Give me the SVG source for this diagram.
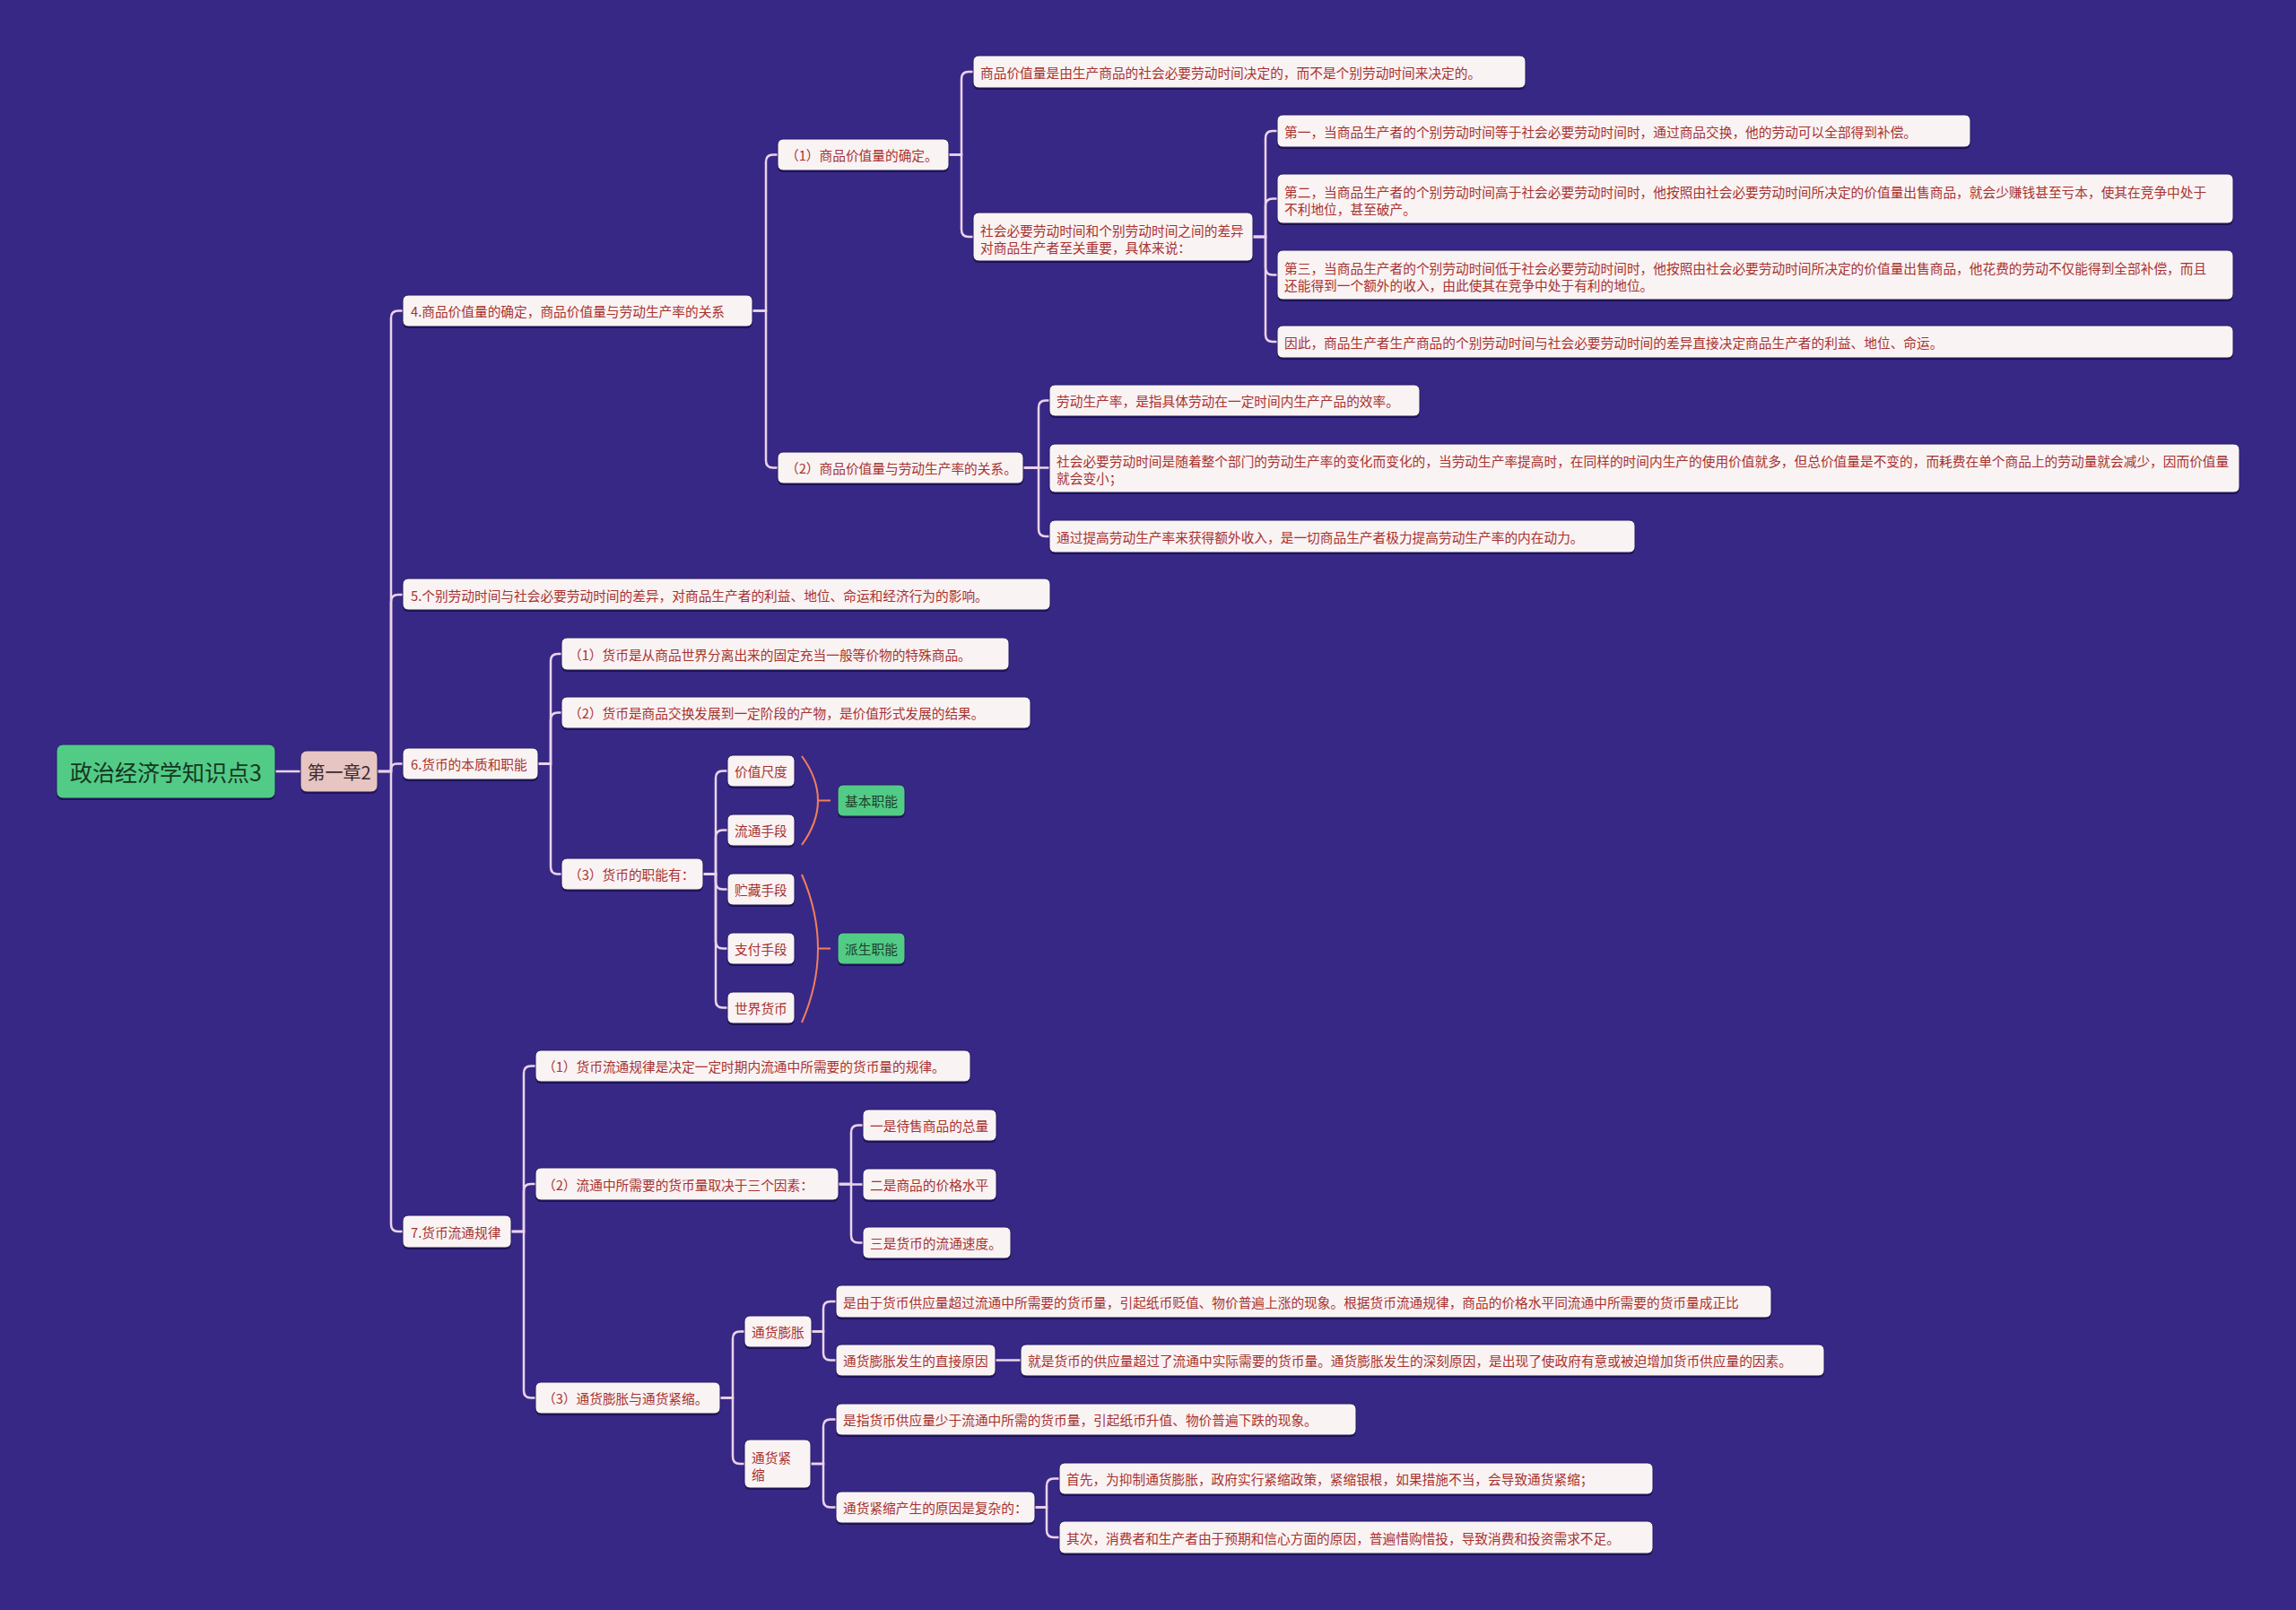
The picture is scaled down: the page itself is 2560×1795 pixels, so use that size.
<svg xmlns="http://www.w3.org/2000/svg" width="2560" height="1795" viewBox="0 0 2560 1795">
<defs>
<style>
.sh{fill:#1b1250;}
.box{fill:#f9f3f3;stroke:#261b63;stroke-width:1;}
.t{font-family:"Noto Sans CJK SC","Noto Sans",sans-serif;font-size:14.7px;fill:#a8322f;dominant-baseline:central;}
.root{fill:#52cb86;stroke:#261b63;stroke-width:1;}
.rt{font-family:"Noto Sans CJK SC","Noto Sans",sans-serif;font-size:25px;fill:#163722;dominant-baseline:central;text-anchor:middle;}
.ch{fill:#e6c5c3;stroke:#261b63;stroke-width:1;}
.cht{font-family:"Noto Sans CJK SC","Noto Sans",sans-serif;font-size:20px;fill:#3a2a2a;dominant-baseline:central;text-anchor:middle;}
.gbox{fill:#52cb86;stroke:#261b63;stroke-width:1;}
.gt{font-family:"Noto Sans CJK SC","Noto Sans",sans-serif;font-size:14.7px;fill:#1d4029;dominant-baseline:central;text-anchor:middle;}
.ln{fill:none;stroke:#ead4ea;stroke-width:2.5;}
.br{fill:none;stroke:#f07f5a;stroke-width:2;}
</style>
</defs>
<rect x="0" y="0" width="2560" height="1795" fill="#382886"/>

<g id="connectors">
<path class="ln" d="M307 860 H335"/>
<path class="ln" d="M421 860 H436 V354.5 Q436 346.5 444 346.5 H449"/>
<path class="ln" d="M421 860 H436 V671 Q436 663 444 663 H449"/>
<path class="ln" d="M436 860 V858 Q436 851.5 442.5 851.5 H449"/>
<path class="ln" d="M421 860 H436 V1365 Q436 1373 444 1373 H449"/>

<path class="ln" d="M839 346.5 H854 V180.5 Q854 172.5 862 172.5 H867"/>
<path class="ln" d="M839 346.5 H854 V513.5 Q854 521.5 862 521.5 H867"/>

<path class="ln" d="M1058 172.5 H1072 V88 Q1072 80 1080 80 H1085"/>
<path class="ln" d="M1058 172.5 H1072 V256 Q1072 264 1080 264 H1085"/>

<path class="ln" d="M1397 264 H1411 V154 Q1411 146 1419 146 H1424"/>
<path class="ln" d="M1397 264 H1411 V229.5 Q1411 221.5 1419 221.5 H1424"/>
<path class="ln" d="M1397 264 H1411 V298.5 Q1411 306.5 1419 306.5 H1424"/>
<path class="ln" d="M1397 264 H1411 V373 Q1411 381 1419 381 H1424"/>

<path class="ln" d="M1141 521.5 H1158 V454.5 Q1158 446.5 1166 446.5 H1170"/>
<path class="ln" d="M1141 521.5 H1170"/>
<path class="ln" d="M1141 521.5 H1158 V590 Q1158 598 1166 598 H1170"/>

<path class="ln" d="M600 851.5 H614 V737 Q614 729 622 729 H626"/>
<path class="ln" d="M600 851.5 H614 V802.5 Q614 794.5 622 794.5 H626"/>
<path class="ln" d="M600 851.5 H614 V966.5 Q614 974.5 622 974.5 H626"/>

<path class="ln" d="M784 974.5 H798 V867.5 Q798 859.5 806 859.5 H811"/>
<path class="ln" d="M784 974.5 H798 V933.5 Q798 925.5 806 925.5 H811"/>
<path class="ln" d="M784 974.5 H798 V983.5 Q798 991.5 806 991.5 H811"/>
<path class="ln" d="M784 974.5 H798 V1049.5 Q798 1057.5 806 1057.5 H811"/>
<path class="ln" d="M784 974.5 H798 V1115.5 Q798 1123.5 806 1123.5 H811"/>

<path class="ln" d="M570 1373 H584 V1196.5 Q584 1188.5 592 1188.5 H597"/>
<path class="ln" d="M570 1373 H584 V1328 Q584 1320 592 1320 H597"/>
<path class="ln" d="M570 1373 H584 V1550.5 Q584 1558.5 592 1558.5 H597"/>

<path class="ln" d="M935 1320 H949 V1262.5 Q949 1254.5 957 1254.5 H962"/>
<path class="ln" d="M935 1320.5 H962"/>
<path class="ln" d="M935 1320 H949 V1377.5 Q949 1385.5 957 1385.5 H962"/>

<path class="ln" d="M803 1558.5 H817 V1492.5 Q817 1484.5 825 1484.5 H830"/>
<path class="ln" d="M803 1558.5 H817 V1624 Q817 1632 825 1632 H830"/>

<path class="ln" d="M905 1484.5 H918 V1459 Q918 1451 926 1451 H932"/>
<path class="ln" d="M905 1484.5 H918 V1508.5 Q918 1516.5 926 1516.5 H932"/>
<path class="ln" d="M1110 1516.5 H1138"/>

<path class="ln" d="M904 1632 H918 V1590.5 Q918 1582.5 926 1582.5 H932"/>
<path class="ln" d="M904 1632 H918 V1672.5 Q918 1680.5 926 1680.5 H932"/>

<path class="ln" d="M1154 1680.5 H1167 V1656.5 Q1167 1648.5 1175 1648.5 H1181"/>
<path class="ln" d="M1154 1680.5 H1167 V1706 Q1167 1714 1175 1714 H1181"/>

<path class="br" d="M894 843 Q930 892.5 894 942"/>
<path class="br" d="M912 892.5 H926"/>
<path class="br" d="M894 975 Q930 1057.5 894 1140"/>
<path class="br" d="M912 1057.5 H926"/>
</g>

<g id="root"><rect class="sh" x="63" y="832" width="244" height="60" rx="7"/><rect class="root" x="63" y="830" width="244" height="60" rx="7"/><text class="rt" x="185" y="860">政治经济学知识点3</text></g>
<g id="chapter"><rect class="sh" x="335" y="839" width="86" height="46" rx="7"/><rect class="ch" x="335" y="837" width="86" height="46" rx="7"/><text class="cht" x="378" y="860">第一章2</text></g>

<g id="n4"><rect class="sh" x="449" y="331" width="390" height="35" rx="6"/><rect class="box" x="449" y="329" width="390" height="35" rx="6"/><text class="t" x="458" y="346.5">4.商品价值量的确定，商品价值量与劳动生产率的关系</text></g>
<g id="n4a"><rect class="sh" x="867" y="157" width="191" height="35" rx="6"/><rect class="box" x="867" y="155" width="191" height="35" rx="6"/><text class="t" x="876" y="172.5">（1）商品价值量的确定。</text></g>
<g id="n4a1"><rect class="sh" x="1085" y="64" width="616" height="36" rx="6"/><rect class="box" x="1085" y="62" width="616" height="36" rx="6"/><text class="t" x="1093" y="80">商品价值量是由生产商品的社会必要劳动时间决定的，而不是个别劳动时间来决定的。</text></g>
<g id="n4a2"><rect class="sh" x="1085" y="239" width="312" height="54" rx="6"/><rect class="box" x="1085" y="237" width="312" height="54" rx="6"/><text class="t" x="1093" y="256">社会必要劳动时间和个别劳动时间之间的差异</text><text class="t" x="1093" y="275">对商品生产者至关重要，具体来说：</text></g>
<g id="n4a2a"><rect class="sh" x="1424" y="130" width="773" height="36" rx="6"/><rect class="box" x="1424" y="128" width="773" height="36" rx="6"/><text class="t" x="1432" y="146">第一，当商品生产者的个别劳动时间等于社会必要劳动时间时，通过商品交换，他的劳动可以全部得到补偿。</text></g>
<g id="n4a2b"><rect class="sh" x="1424" y="196" width="1066" height="55" rx="6"/><rect class="box" x="1424" y="194" width="1066" height="55" rx="6"/><text class="t" x="1432" y="213">第二，当商品生产者的个别劳动时间高于社会必要劳动时间时，他按照由社会必要劳动时间所决定的价值量出售商品，就会少赚钱甚至亏本，使其在竞争中处于</text><text class="t" x="1432" y="232">不利地位，甚至破产。</text></g>
<g id="n4a2c"><rect class="sh" x="1424" y="281" width="1066" height="55" rx="6"/><rect class="box" x="1424" y="279" width="1066" height="55" rx="6"/><text class="t" x="1432" y="298">第三，当商品生产者的个别劳动时间低于社会必要劳动时间时，他按照由社会必要劳动时间所决定的价值量出售商品，他花费的劳动不仅能得到全部补偿，而且</text><text class="t" x="1432" y="317">还能得到一个额外的收入，由此使其在竞争中处于有利的地位。</text></g>
<g id="n4a2d"><rect class="sh" x="1424" y="365" width="1066" height="36" rx="6"/><rect class="box" x="1424" y="363" width="1066" height="36" rx="6"/><text class="t" x="1432" y="381">因此，商品生产者生产商品的个别劳动时间与社会必要劳动时间的差异直接决定商品生产者的利益、地位、命运。</text></g>
<g id="n4b"><rect class="sh" x="867" y="506" width="274" height="35" rx="6"/><rect class="box" x="867" y="504" width="274" height="35" rx="6"/><text class="t" x="876" y="521.5">（2）商品价值量与劳动生产率的关系。</text></g>
<g id="n4b1"><rect class="sh" x="1170" y="431" width="413" height="35" rx="6"/><rect class="box" x="1170" y="429" width="413" height="35" rx="6"/><text class="t" x="1178" y="446.5">劳动生产率，是指具体劳动在一定时间内生产产品的效率。</text></g>
<g id="n4b2"><rect class="sh" x="1170" y="497" width="1327" height="54" rx="6"/><rect class="box" x="1170" y="495" width="1327" height="54" rx="6"/><text class="t" x="1178" y="513">社会必要劳动时间是随着整个部门的劳动生产率的变化而变化的，当劳动生产率提高时，在同样的时间内生产的使用价值就多，但总价值量是不变的，而耗费在单个商品上的劳动量就会减少，因而价值量</text><text class="t" x="1178" y="532">就会变小；</text></g>
<g id="n4b3"><rect class="sh" x="1170" y="582" width="653" height="36" rx="6"/><rect class="box" x="1170" y="580" width="653" height="36" rx="6"/><text class="t" x="1178" y="598">通过提高劳动生产率来获得额外收入，是一切商品生产者极力提高劳动生产率的内在动力。</text></g>

<g id="n5"><rect class="sh" x="449" y="647" width="722" height="35" rx="6"/><rect class="box" x="449" y="645" width="722" height="35" rx="6"/><text class="t" x="458" y="663">5.个别劳动时间与社会必要劳动时间的差异，对商品生产者的利益、地位、命运和经济行为的影响。</text></g>

<g id="n6"><rect class="sh" x="449" y="836" width="151" height="35" rx="6"/><rect class="box" x="449" y="834" width="151" height="35" rx="6"/><text class="t" x="458" y="851.5">6.货币的本质和职能</text></g>
<g id="n6a"><rect class="sh" x="626" y="713" width="499" height="36" rx="6"/><rect class="box" x="626" y="711" width="499" height="36" rx="6"/><text class="t" x="634" y="729">（1）货币是从商品世界分离出来的固定充当一般等价物的特殊商品。</text></g>
<g id="n6b"><rect class="sh" x="626" y="779" width="523" height="35" rx="6"/><rect class="box" x="626" y="777" width="523" height="35" rx="6"/><text class="t" x="634" y="794.5">（2）货币是商品交换发展到一定阶段的产物，是价值形式发展的结果。</text></g>
<g id="n6c"><rect class="sh" x="626" y="959" width="158" height="35" rx="6"/><rect class="box" x="626" y="957" width="158" height="35" rx="6"/><text class="t" x="634" y="974.5">（3）货币的职能有：</text></g>
<g id="f1"><rect class="sh" x="811" y="844" width="75" height="35" rx="6"/><rect class="box" x="811" y="842" width="75" height="35" rx="6"/><text class="t" x="819" y="859.5">价值尺度</text></g>
<g id="f2"><rect class="sh" x="811" y="910" width="75" height="35" rx="6"/><rect class="box" x="811" y="908" width="75" height="35" rx="6"/><text class="t" x="819" y="925.5">流通手段</text></g>
<g id="f3"><rect class="sh" x="811" y="976" width="75" height="35" rx="6"/><rect class="box" x="811" y="974" width="75" height="35" rx="6"/><text class="t" x="819" y="991.5">贮藏手段</text></g>
<g id="f4"><rect class="sh" x="811" y="1042" width="75" height="35" rx="6"/><rect class="box" x="811" y="1040" width="75" height="35" rx="6"/><text class="t" x="819" y="1057.5">支付手段</text></g>
<g id="f5"><rect class="sh" x="811" y="1108" width="75" height="35" rx="6"/><rect class="box" x="811" y="1106" width="75" height="35" rx="6"/><text class="t" x="819" y="1123.5">世界货币</text></g>
<g id="s1"><rect class="sh" x="934" y="877" width="75" height="35" rx="6"/><rect class="gbox" x="934" y="875" width="75" height="35" rx="6"/><text class="gt" x="971.5" y="892.5">基本职能</text></g>
<g id="s2"><rect class="sh" x="934" y="1042" width="75" height="35" rx="6"/><rect class="gbox" x="934" y="1040" width="75" height="35" rx="6"/><text class="gt" x="971.5" y="1057.5">派生职能</text></g>

<g id="n7"><rect class="sh" x="449" y="1357" width="121" height="36" rx="6"/><rect class="box" x="449" y="1355" width="121" height="36" rx="6"/><text class="t" x="458" y="1373">7.货币流通规律</text></g>
<g id="n7a"><rect class="sh" x="597" y="1173" width="485" height="35" rx="6"/><rect class="box" x="597" y="1171" width="485" height="35" rx="6"/><text class="t" x="605" y="1188.5">（1）货币流通规律是决定一定时期内流通中所需要的货币量的规律。</text></g>
<g id="n7b"><rect class="sh" x="597" y="1304" width="338" height="36" rx="6"/><rect class="box" x="597" y="1302" width="338" height="36" rx="6"/><text class="t" x="605" y="1320">（2）流通中所需要的货币量取决于三个因素：</text></g>
<g id="n7b1"><rect class="sh" x="962" y="1239" width="149" height="35" rx="6"/><rect class="box" x="962" y="1237" width="149" height="35" rx="6"/><text class="t" x="970" y="1254.5">一是待售商品的总量</text></g>
<g id="n7b2"><rect class="sh" x="962" y="1305" width="149" height="35" rx="6"/><rect class="box" x="962" y="1303" width="149" height="35" rx="6"/><text class="t" x="970" y="1320.5">二是商品的价格水平</text></g>
<g id="n7b3"><rect class="sh" x="962" y="1370" width="165" height="35" rx="6"/><rect class="box" x="962" y="1368" width="165" height="35" rx="6"/><text class="t" x="970" y="1385.5">三是货币的流通速度。</text></g>
<g id="n7c"><rect class="sh" x="597" y="1543" width="206" height="35" rx="6"/><rect class="box" x="597" y="1541" width="206" height="35" rx="6"/><text class="t" x="605" y="1558.5">（3）通货膨胀与通货紧缩。</text></g>
<g id="inf"><rect class="sh" x="830" y="1469" width="75" height="35" rx="6"/><rect class="box" x="830" y="1467" width="75" height="35" rx="6"/><text class="t" x="838" y="1484.5">通货膨胀</text></g>
<g id="inf1"><rect class="sh" x="932" y="1435" width="1043" height="36" rx="6"/><rect class="box" x="932" y="1433" width="1043" height="36" rx="6"/><text class="t" x="940" y="1451">是由于货币供应量超过流通中所需要的货币量，引起纸币贬值、物价普遍上涨的现象。根据货币流通规律，商品的价格水平同流通中所需要的货币量成正比</text></g>
<g id="inf2"><rect class="sh" x="932" y="1501" width="178" height="35" rx="6"/><rect class="box" x="932" y="1499" width="178" height="35" rx="6"/><text class="t" x="940" y="1516.5">通货膨胀发生的直接原因</text></g>
<g id="inf2a"><rect class="sh" x="1138" y="1501" width="896" height="35" rx="6"/><rect class="box" x="1138" y="1499" width="896" height="35" rx="6"/><text class="t" x="1146" y="1516.5">就是货币的供应量超过了流通中实际需要的货币量。通货膨胀发生的深刻原因，是出现了使政府有意或被迫增加货币供应量的因素。</text></g>
<g id="def"><rect class="sh" x="830" y="1607" width="74" height="54" rx="6"/><rect class="box" x="830" y="1605" width="74" height="54" rx="6"/><text class="t" x="838" y="1624">通货紧</text><text class="t" x="838" y="1643">缩</text></g>
<g id="def1"><rect class="sh" x="932" y="1567" width="580" height="35" rx="6"/><rect class="box" x="932" y="1565" width="580" height="35" rx="6"/><text class="t" x="940" y="1582.5">是指货币供应量少于流通中所需的货币量，引起纸币升值、物价普遍下跌的现象。</text></g>
<g id="def2"><rect class="sh" x="932" y="1665" width="222" height="35" rx="6"/><rect class="box" x="932" y="1663" width="222" height="35" rx="6"/><text class="t" x="940" y="1680.5">通货紧缩产生的原因是复杂的：</text></g>
<g id="def2a"><rect class="sh" x="1181" y="1633" width="662" height="35" rx="6"/><rect class="box" x="1181" y="1631" width="662" height="35" rx="6"/><text class="t" x="1189" y="1648.5">首先，为抑制通货膨胀，政府实行紧缩政策，紧缩银根，如果措施不当，会导致通货紧缩；</text></g>
<g id="def2b"><rect class="sh" x="1181" y="1698" width="662" height="36" rx="6"/><rect class="box" x="1181" y="1696" width="662" height="36" rx="6"/><text class="t" x="1189" y="1714">其次，消费者和生产者由于预期和信心方面的原因，普遍惜购惜投，导致消费和投资需求不足。</text></g>
</svg>
